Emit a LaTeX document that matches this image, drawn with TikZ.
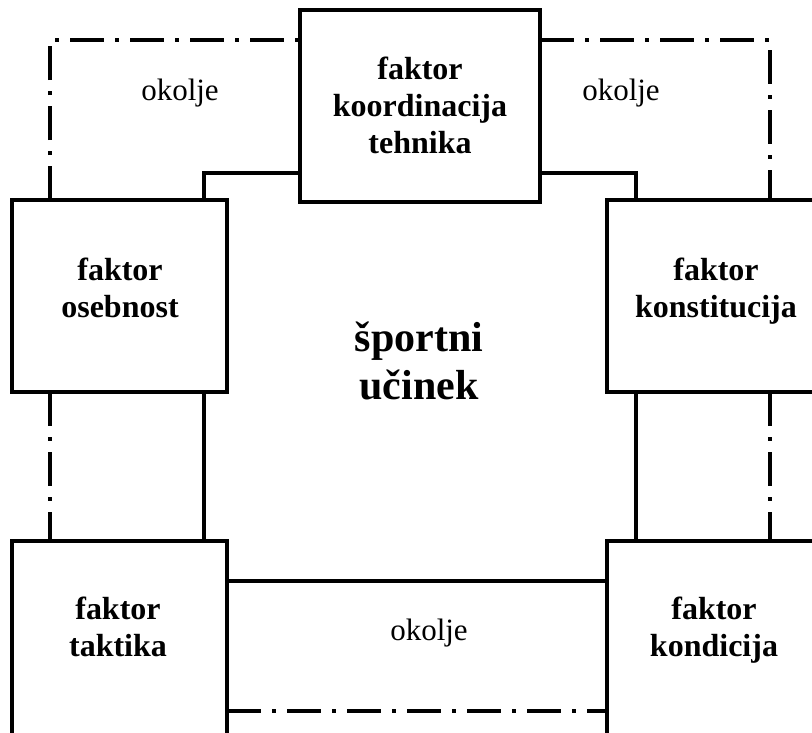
\documentclass[tikz,border=0pt]{standalone}
\usepackage{fontspec}
\setmainfont{Liberation Serif}
\begin{document}
\begin{tikzpicture}[x=1pt,y=-1pt,
  factorbox/.style={draw, line width=4pt, fill=white, inner sep=0pt, outer sep=0pt},
  factorlabel/.style={align=center, inner sep=0pt, font=\fontsize{32}{37}\selectfont\bfseries},
  corelabel/.style={align=center, inner sep=0pt, font=\fontsize{42}{48}\selectfont\bfseries},
  envlabel/.style={inner sep=0pt, anchor=base, font=\fontsize{31}{36}\selectfont},
  innerline/.style={line width=3.3pt},
  envline/.style={line width=4.5pt, dash pattern=on 34pt off 11pt on 4pt off 11pt}]
\useasboundingbox (0,0) rectangle (812,732);

% corner points of the inner solid frame and the outer dash-dot frame
\coordinate (iTL) at (204,173);
\coordinate (iTR) at (636,173);
\coordinate (iB) at (0,581);
\coordinate (oTL) at (50,40);
\coordinate (oTR) at (770,40);
\coordinate (oB) at (0,711);

% the five factor boxes
\node[factorbox, minimum width=240, minimum height=192] (koord) at (420,106) {};
\node[factorbox, minimum width=215, minimum height=192] (osebnost) at (119.5,296) {};
\node[factorbox, minimum width=220, minimum height=192] (konst) at (717,296) {};
\node[factorbox, minimum width=215, minimum height=194] (taktika) at (119.5,638) {};
\node[factorbox, minimum width=220, minimum height=194] (kond) at (717,638) {};

% inner solid frame
\draw[innerline] (osebnost.north -| iTL) -- (iTL) -- (koord.west |- iTL);
\draw[innerline] (koord.east |- iTR) -- (iTR) -- (konst.north -| iTR);
\draw[innerline] (osebnost.south -| iTL) -- (taktika.north -| iTL);
\draw[innerline] (konst.south -| iTR) -- (kond.north -| iTR);
\draw[innerline] (taktika.east |- iB) -- (kond.west |- iB);

% outer dash-dot frame (environment)
\draw[envline] (osebnost.north -| oTL) -- (oTL) -- (koord.west |- oTL);
\draw[envline] (koord.east |- oTR) -- (oTR) -- (konst.north -| oTR);
\draw[envline] (osebnost.south -| oTL) -- (taktika.north -| oTL);
\draw[envline] (konst.south -| oTR) -- (kond.north -| oTR);
\draw[envline] (taktika.east |- oB) -- (kond.west |- oB);

% labels
\node[factorlabel] (tkoord) at (420,105.5) {faktor\\koordinacija\\tehnika};
\node[factorlabel] (toseb) at (120,287.5) {faktor\\osebnost};
\node[factorlabel] (tkonst) at (716,291) {faktor\\konstitucija};
\node[factorlabel] (ttakt) at (118,627) {faktor\\taktika};
\node[factorlabel] (tkond) at (714,630.5) {faktor\\kondicija};
\node[corelabel] (core) at (419,361) {športni\\učinek};
\node[envlabel] (env1) at (180,100) {okolje};
\node[envlabel] (env2) at (621,100) {okolje};
\node[envlabel] (env3) at (429,640) {okolje};
\end{tikzpicture}
\end{document}
